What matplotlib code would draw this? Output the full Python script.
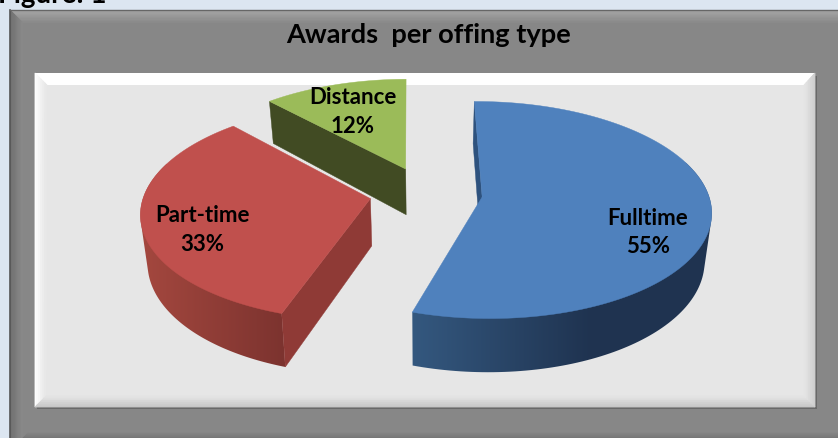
import numpy as np
import matplotlib
matplotlib.use("Agg")
import matplotlib.pyplot as plt
from matplotlib.colors import to_rgb
from matplotlib.patches import Polygon, Rectangle

# data
categories = ["Fulltime", "Part-time", "Distance"]
values = [55, 33, 12]
colors = ["#4f81bd", "#c0504d", "#9bbb59"]
title = "Awards  per offing type"
W, H = 838, 439

fig = plt.figure(figsize=(W / 100, H / 100), dpi=100)
ax = fig.add_axes([0, 0, 1, 1])
ax.axis("off")
plt.rcParams["font.family"] = ["Lato", "DejaVu Sans"]


def mix(a, b, t):
    a, b = np.array(to_rgb(a)), np.array(to_rgb(b))
    return tuple(a + (b - a) * np.clip(t, 0, 1))


def poly(pts, color, z=1, lw=0.0, alpha=None):
    p = Polygon(pts, closed=True, facecolor=color, edgecolor=color if lw else "none",
                linewidth=lw, zorder=z, alpha=alpha)
    ax.add_patch(p)
    return p


def band(p0, p1, p2, p3, c0, c1, n=10, z=1):
    """Gradient from edge p0-p1 to edge p3-p2."""
    p0, p1, p2, p3 = map(np.array, (p0, p1, p2, p3))
    for i in range(n):
        a, b = i / n, (i + 1) / n
        poly([p0 + (p3 - p0) * a, p1 + (p2 - p1) * a, p1 + (p2 - p1) * b, p0 + (p3 - p0) * b],
             mix(c0, c1, (i + .5) / n), z=z, lw=0.6)


def hull(points):
    pts = sorted(map(tuple, points))

    def half(seq):
        out = []
        for p in seq:
            while len(out) >= 2 and ((out[-1][0] - out[-2][0]) * (p[1] - out[-2][1])
                                     - (out[-1][1] - out[-2][1]) * (p[0] - out[-2][0])) <= 0:
                out.pop()
            out.append(p)
        return out[:-1]

    return np.array(half(pts) + half(pts[::-1]))


# page and frames
ax.add_patch(Rectangle((0, 0), W, H, fc="#dce6f1", ec="none", zorder=0))
ax.add_patch(Rectangle((10, 11), W, H, fc="#878787", ec="none", zorder=0.5))
band((10, 11), (838, 11), (838, 23), (22, 23), "#a6a6a6", "#8a8a8a", z=0.6)
band((10, 11), (10, 439), (22, 439), (22, 23), "#6f6f6f", "#8a8a8a", z=0.6)
band((22, 439), (838, 439), (838, 431), (30, 431), "#757575", "#8a8a8a", z=0.6)
ax.plot([10, 10], [11, 439], color="#555555", lw=1.2, zorder=0.7)
ax.plot([10, 838], [11, 11], color="#666666", lw=1.0, zorder=0.7)
ax.add_patch(Rectangle((37, 77), 780, 333, fc="#555555", ec="none", alpha=0.6, zorder=0.8))
ax.add_patch(Rectangle((35, 74), 780, 334, fc="#e6e6e6", ec="none", zorder=0.9))
poly([(35, 74), (815, 74), (804, 86), (47, 86)], "#ffffff", z=0.95)
band((35, 74), (35, 408), (46, 396), (47, 86), "#ffffff", "#e6e6e6", n=6, z=0.95)
band((35, 408), (815, 408), (804, 397), (46, 397), "#c4c4c4", "#e6e6e6", n=6, z=0.95)
band((815, 74), (815, 408), (804, 397), (804, 86), "#cccccc", "#e6e6e6", n=6, z=0.95)

# projection of the exploded 3-D pie
cx, cy = 426.0, 194.0
scale_x, scale_y, persp, explode, depth, shrink = 226.0, 106.0, 0.12, 0.25, 47.0, 0.975
start = -0.5
begin_turn = [0.0, 1.0, 0.8]
end_turn = [0.0, 1.0, 0.0]


def project(u, v, bottom=False):
    w = 1 + persp * v
    sx, sy = scale_x * u / w, -scale_y * v / w
    if bottom:
        return np.column_stack([cx + sx * shrink, cy + sy + depth / w])
    return np.column_stack([cx + sx, cy + sy])


wall_cols = [("#34587f", "#1f3350", 412, 590), ("#a5483f", "#7c332f", 138, 284), None]
face_cols = ["#2e527e", "#8f3a36", "#414b23"]
fractions = np.array(values) / sum(values)
ends = start + np.cumsum(fractions) * 360
begins = ends - fractions * 360

for idx, z in [(2, 2), (1, 3), (0, 4)]:
    a0, a1 = np.radians(begins[idx] + begin_turn[idx]), np.radians(ends[idx] + end_turn[idx])
    mid = (a0 + a1) / 2
    ox, oy = explode * np.sin(mid), explode * np.cos(mid)
    th = np.linspace(a0, a1, 160)
    u, v = ox + np.sin(th), oy + np.cos(th)
    top, bot = project(u, v), project(u, v, True)
    ap_t = project(np.array([ox]), np.array([oy]))[0]
    ap_b = project(np.array([ox]), np.array([oy]), True)[0]
    if wall_cols[idx] is not None:
        c0, c1, x0, x1 = wall_cols[idx]
        front = (np.degrees(th) > 70) & (np.degrees(th) < 290)
        wall = poly(hull(np.vstack([top[front], bot[front]])), "none", z=z)
        grad = np.array([[mix(c0, c1, (x - x0) / (x1 - x0)) for x in np.arange(0, W)]])
        im = ax.imshow(grad, extent=(0, W, H, 0), aspect="auto", zorder=z, interpolation="nearest")
        im.set_clip_path(wall)
    poly([ap_t, top[0], bot[0], ap_b], face_cols[idx], z=z + 0.1, lw=0.3)
    poly(np.vstack([ap_t, top]), colors[idx], z=z + 0.2, lw=0.3)

ax.set_xlim(0, W)
ax.set_ylim(H, 0)
ax.set_aspect("auto")

# text
txt = dict(fontweight="bold", color="black", ha="center", va="center", zorder=10)
ax.text(429, 35, title, fontsize=19.6, **txt)
label_pos = [(648, 219, 247), (202, 216, 245), (353, 98, 127)]
for name, val, (x, y1, y2) in zip(categories, values, label_pos):
    ax.text(x, y1, name, fontsize=16, **txt)
    ax.text(x, y2, f"{val}%", fontsize=16, **txt)
ax.text(-2, 3, "Figure: 1", fontsize=20, fontweight="bold", color="black", ha="left", va="baseline", zorder=10)

fig.savefig("out.png", dpi=100)
